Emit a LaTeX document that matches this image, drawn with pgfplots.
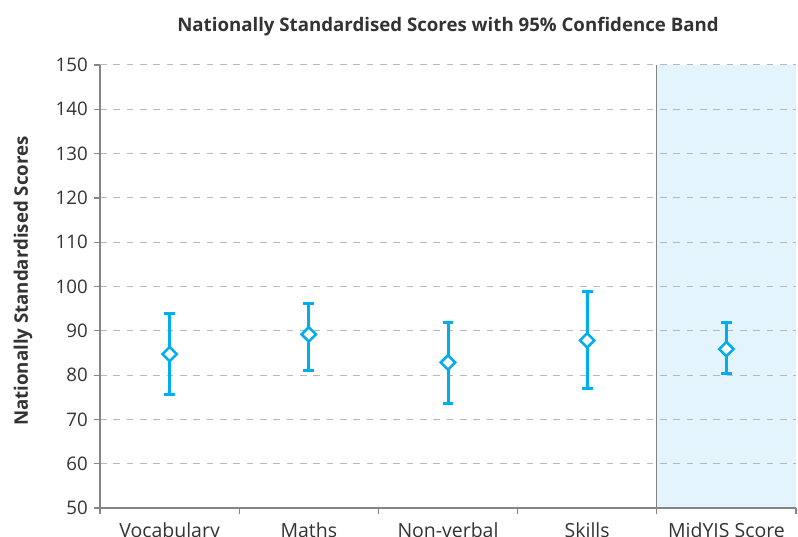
\documentclass[border=0pt]{standalone}
\usepackage{pgfplots}
\usepackage{pgfplotstable}
\pgfplotsset{compat=1.18}
\usepackage{fontspec}
\setmainfont{Open Sans}
\definecolor{barblue}{HTML}{00AEEF}
\definecolor{shade}{HTML}{E3F4FC}
\definecolor{gridgray}{HTML}{B8B8B8}
\definecolor{axgray}{HTML}{858585}
\definecolor{txt}{HTML}{333333}

\pgfplotstableread{
x y ep em
0 84.74 9.19 9.10
1 89.19 7.00 8.06
2 82.87 9.09 9.26
3 87.83 10.97 10.83
4 85.87 6.03 5.49
}\scores

\begin{document}
\begin{tikzpicture}
\begin{axis}[
  set layers,
  at={(0pt,0pt)}, anchor=south west,
  width=522pt, height=332.25pt, scale only axis,
  xmin=-0.5, xmax=4.5, ymin=50, ymax=150,
  ytick={50,60,...,150},
  xtick={0,...,4},
  xticklabels={Vocabulary,Maths,Non-verbal,Skills,MidYIS Score},
  minor xtick={-0.5,0.5,...,4.5},
  axis x line*=bottom, axis y line*=left,
  axis line style={axgray, line width=0.9pt, -},
  tick style={axgray, line width=0.9pt},
  major x tick style={draw=none},
  major tick length=4.5pt, minor tick length=4.5pt,
  tick align=outside,
  ymajorgrids,
  grid style={gridgray, line width=0.75pt, dash pattern=on 5pt off 5pt},
  /pgf/number format/assume math mode=true,
  yticklabel style={font=\fontsize{14}{16}\selectfont, text=txt, anchor=east, inner sep=0pt, xshift=-4.5pt},
  xticklabel style={font=\fontsize{14.6}{16}\selectfont, text=txt, anchor=base, inner sep=0pt, yshift=-17.5pt},
  title={Nationally Standardised Scores with 95\% Confidence Band},
  title style={font=\bfseries\fontsize{14}{16}\selectfont, text=txt, at={(0.5,1)}, anchor=base, yshift=19pt},
  ylabel={Nationally Standardised Scores},
  ylabel style={font=\bfseries\fontsize{14}{16}\selectfont, text=txt, at={(axis description cs:0,0.5)}, anchor=base, yshift=54pt, xshift=4pt},
]
\addplot[fill=shade, draw=none, on layer=axis background] coordinates {(3.5,50) (4.5,50) (4.5,150) (3.5,150)} -- cycle;
\addplot[axgray, line width=1pt] coordinates {(3.5,50) (3.5,150)};
\addplot[only marks, mark=square*, barblue,
  mark options={rotate=45, fill=white, draw=barblue, line width=1.9pt, mark size=3.8pt},
  error bars/.cd, y dir=both, y explicit,
  error bar style={barblue, line width=2.25pt},
  error mark options={rotate=90, mark size=4.1pt, barblue, line width=2.25pt}]
  table[x=x, y=y, y error plus=ep, y error minus=em] {\scores};
\end{axis}
\pgfresetboundingbox
\useasboundingbox (-75pt,-21pt) rectangle (523.5pt,381pt);
\end{tikzpicture}
\end{document}
